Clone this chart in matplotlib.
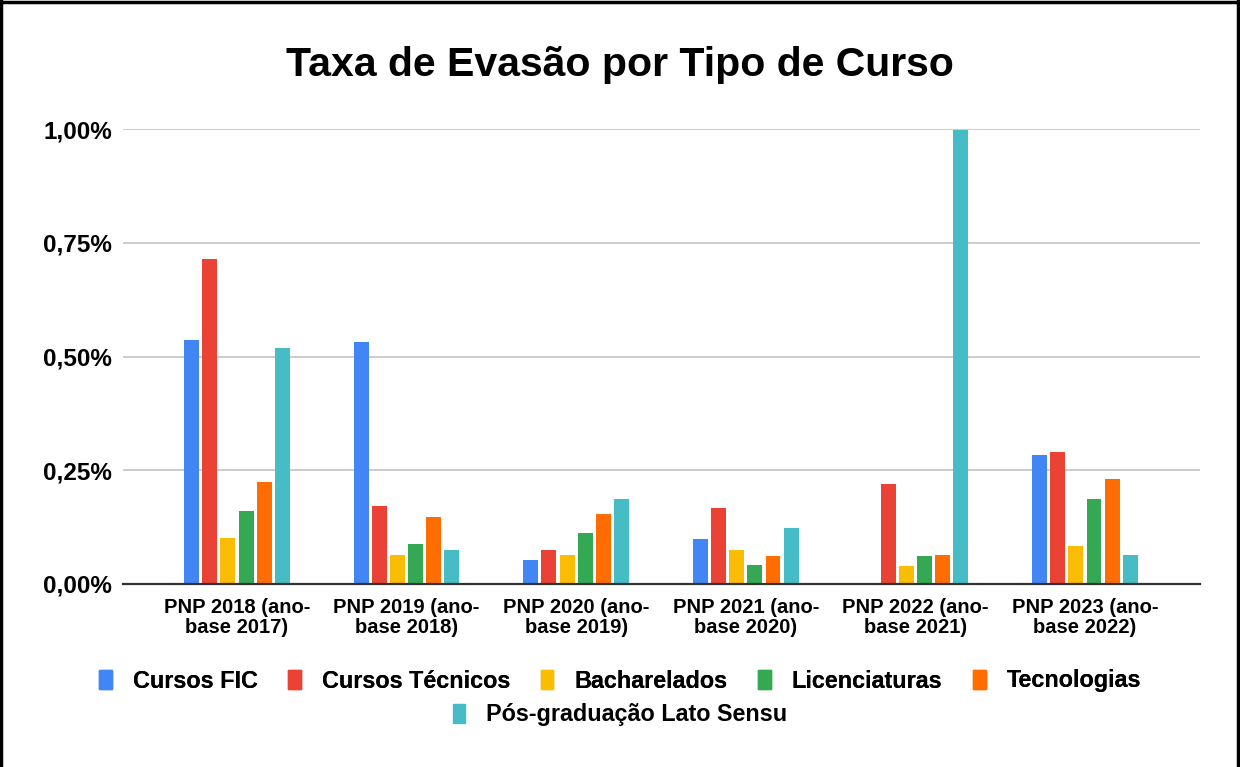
import matplotlib.pyplot as plt
import numpy as np
from matplotlib.patches import Patch
from matplotlib.lines import Line2D

plt.rcParams['font.family'] = ['Liberation Sans', 'DejaVu Sans']

categories = ['PNP 2018 (ano-\nbase 2017)', 'PNP 2019 (ano-\nbase 2018)', 'PNP 2020 (ano-\nbase 2019)',
              'PNP 2021 (ano-\nbase 2020)', 'PNP 2022 (ano-\nbase 2021)', 'PNP 2023 (ano-\nbase 2022)']
series = ['Cursos FIC', 'Cursos Técnicos', 'Bacharelados', 'Licenciaturas', 'Tecnologias',
          'Pós-graduação Lato Sensu']
fic = [0.536, 0.532, 0.053, 0.098, 0.0, 0.284]
tecnicos = [0.714, 0.172, 0.075, 0.168, 0.220, 0.291]
bacharelados = [0.100, 0.064, 0.064, 0.075, 0.039, 0.083]
licenciaturas = [0.160, 0.087, 0.113, 0.042, 0.061, 0.187]
tecnologias = [0.2235, 0.147, 0.154, 0.061, 0.064, 0.231]
pos = [0.518, 0.075, 0.187, 0.124, 0.998, 0.064]
yticks = [0, 0.25, 0.5, 0.75, 1.0]
ytick_labels = ['0,00%', '0,25%', '0,50%', '0,75%', '1,00%']

colors = ['#4285F4', '#EA4335', '#FBBC04', '#34A853', '#FF6D01', '#46BDC6']
values = [fic, tecnicos, bacharelados, licenciaturas, tecnologias, pos]

fig = plt.figure(figsize=(12.4, 7.67), dpi=100)
ax = fig.add_axes([0.0992, 0.2386, 0.8685, 0.5932])

x = np.arange(len(categories))
step = 0.107
width = 0.088
for i, (vals, c) in enumerate(zip(values, colors)):
    ax.bar(x + (i - 2.5) * step, vals, width=width, color=c, zorder=3)

ax.set_xlim(-0.672, 5.678)
ax.set_ylim(0, 1.0)
ax.set_yticks(yticks)
ax.set_yticklabels(ytick_labels, fontsize=17.5, fontweight='bold')
ax.set_xticks(x)
ax.set_xticklabels(categories, fontsize=14.5, fontweight='bold', linespacing=1.1)
ax.tick_params(axis='y', length=0, pad=8)
ax.tick_params(axis='x', length=0, pad=10)
ax.grid(axis='y', color='#cccccc', linewidth=1.4, zorder=0)
for s in ['top', 'right', 'left']:
    ax.spines[s].set_visible(False)
ax.spines['bottom'].set_color('#333333')
ax.spines['bottom'].set_linewidth(1.6)
ax.spines['bottom'].set_zorder(4)

fig.text(0.5, 1 - 65 / 767, 'Taxa de Evasão por Tipo de Curso', ha='center', va='center',
         fontsize=29.5, fontweight='bold')

handles = [Patch(facecolor=c, edgecolor=c) for c in colors]
leg_kw = dict(frameon=False, handlelength=0.55, handleheight=0.9, handletextpad=0.9,
              columnspacing=1.3, prop={'size': 16.8, 'weight': 'bold'}, loc='center')
leg1 = fig.legend(handles[:5], series[:5], ncol=5, bbox_to_anchor=(0.5, 1 - 681 / 767), **leg_kw)
fig.add_artist(leg1)
fig.legend(handles[5:], series[5:], ncol=1, bbox_to_anchor=(0.5, 1 - 715 / 767), **leg_kw)

# black frame on top, left and right
for xs, ys in [([0, 1], [0.998, 0.998]), ([0.0012, 0.0012], [0, 1]), ([0.998, 0.998], [0, 1])]:
    fig.add_artist(Line2D(xs, ys, transform=fig.transFigure, color='black', linewidth=2.5))

fig.savefig('out.png', dpi=100)
